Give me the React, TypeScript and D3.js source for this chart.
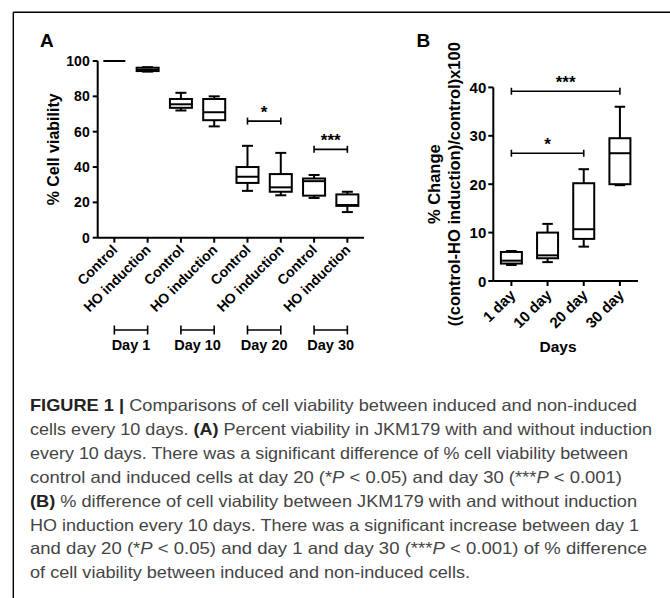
import React from "react";
import * as d3 from "d3";

// panel A: % cell viability, control vs HO induction per day
const groupsA = ["Control", "HO induction", "Control", "HO induction", "Control", "HO induction", "Control", "HO induction"];
const minA = [100, 94, 72, 63, 26.5, 24, 22.5, 14.5];
const q1A = [100, 94.3, 73.5, 66.5, 31, 26, 23.8, 18];
const medA = [100, 95, 75.5, 71, 34.5, 28.5, 32, 18.5];
const q3A = [100, 96.2, 78.5, 78.5, 40, 36, 33.5, 24.5];
const maxA = [100, 96.5, 82, 80, 52, 48, 35.5, 26];
const daysA = ["Day 1", "Day 10", "Day 20", "Day 30"];
const ticksA = [0, 20, 40, 60, 80, 100];
const sigA = [
  { from: 4, to: 5, level: 66, label: "*" },
  { from: 6, to: 7, level: 50, label: "***" },
];

// panel B: % change between control and induced
const groupsB = ["1 day", "10 day", "20 day", "30 day"];
const minB = [3.3, 3.9, 7.1, 19.8];
const q1B = [3.6, 4.7, 8.7, 20];
const medB = [4.2, 5.3, 10.7, 26.4];
const q3B = [6, 10, 20.2, 29.5];
const maxB = [6.2, 11.8, 23.1, 36];
const ticksB = [0, 10, 20, 30, 40];
const sigB = [
  { from: 0, to: 2, level: 26.4, label: "*" },
  { from: 0, to: 3, level: 39.2, label: "***" },
];

// caption, one entry per printed line
const captionLines = [
  [{ t: "FIGURE 1 | ", b: true }, { t: "Comparisons of cell viability between induced and non-induced" }],
  [{ t: "cells every 10 days. " }, { t: "(A)", b: true }, { t: " Percent viability in JKM179 with and without induction" }],
  [{ t: "every 10 days. There was a significant difference of % cell viability between" }],
  [{ t: "control and induced cells at day 20 (*" }, { t: "P", i: true }, { t: " < 0.05) and day 30 (***" }, { t: "P", i: true }, { t: " < 0.001)" }],
  [{ t: "(B)", b: true }, { t: " % difference of cell viability between JKM179 with and without induction" }],
  [{ t: "HO induction every 10 days. There was a significant increase between day 1" }],
  [{ t: "and day 20 (*" }, { t: "P", i: true }, { t: " < 0.05) and day 1 and day 30 (***" }, { t: "P", i: true }, { t: " < 0.001) of % difference" }],
  [{ t: "of cell viability between induced and non-induced cells." }],
];
const captionEnds = [637, 652, 628, 622, 637, 639, 647, 470];

const FONT = "'Liberation Sans', Arial, Helvetica, sans-serif";

const Box = ({ cx, w, lo, q1, med, q3, hi, y }) => {
  const cap = w * 0.5;
  return (
    <g stroke="#000" strokeWidth={2} fill="none">
      <line x1={cx} x2={cx} y1={y(hi)} y2={y(q3)} />
      <line x1={cx} x2={cx} y1={y(q1)} y2={y(lo)} />
      <line x1={cx - cap / 2} x2={cx + cap / 2} y1={y(hi)} y2={y(hi)} />
      <line x1={cx - cap / 2} x2={cx + cap / 2} y1={y(lo)} y2={y(lo)} />
      <rect x={cx - w / 2} y={y(q3)} width={w} height={y(q1) - y(q3)} />
      <line x1={cx - w / 2} x2={cx + w / 2} y1={y(med)} y2={y(med)} />
    </g>
  );
};

const Bracket = ({ x1, x2, y, h, label, size }) => (
  <g>
    <g stroke="#000" strokeWidth={1.6}>
      <line x1={x1} x2={x2} y1={y} y2={y} />
      <line x1={x1} x2={x1} y1={y - h / 2} y2={y + h / 2} />
      <line x1={x2} x2={x2} y1={y - h / 2} y2={y + h / 2} />
    </g>
    {label && (
      <text x={(x1 + x2) / 2} y={y - 3} textAnchor="middle" fontSize={size} fontWeight="bold">
        {label}
      </text>
    )}
  </g>
);

const App = () => {
  // panel A scales
  const xA = d3.scalePoint(d3.range(groupsA.length), [97.7, 364]).padding(0.5);
  const yA = d3.scaleLinear([0, 100], [237.7, 61]);
  // panel B scales
  const xB = d3.scalePoint(d3.range(groupsB.length), [493.3, 638]).padding(0.5);
  const yB = d3.scaleLinear([0, 40], [281, 87.4]);

  const axisA = 97.7;
  const axisB = 493.3;

  return (
    <svg width={670} height={598} style={{ position: "absolute", left: 0, top: 0, background: "#fff" }} fontFamily={FONT}>
      {/* frame */}
      <g stroke="#000" strokeWidth={1.4}>
        <line x1={13.3} x2={670} y1={12.3} y2={12.3} />
        <line x1={13.3} x2={13.3} y1={12.3} y2={598} />
      </g>

      {/* ---------- panel A ---------- */}
      <text x={40} y={47} fontSize={19} fontWeight="bold">A</text>
      <g stroke="#000" strokeWidth={2}>
        <line x1={axisA} x2={axisA} y1={yA(0)} y2={yA(100)} />
        <line x1={axisA} x2={364} y1={yA(0)} y2={yA(0)} />
        {ticksA.map(t => (
          <line key={t} x1={axisA - 5} x2={axisA} y1={yA(t)} y2={yA(t)} />
        ))}
        {groupsA.map((g, i) => (
          <line key={i} x1={xA(i)} x2={xA(i)} y1={yA(0)} y2={yA(0) + 5} />
        ))}
      </g>
      {ticksA.map(t => (
        <text key={t} x={axisA - 8} y={yA(t) + 5} textAnchor="end" fontSize={14} fontWeight="bold">{t}</text>
      ))}
      <text transform={`translate(59,${(yA(0) + yA(100)) / 2}) rotate(-90)`} textAnchor="middle" fontSize={16} fontWeight="bold">
        % Cell viability
      </text>
      {groupsA.map((g, i) => (
        <text key={i} transform={`translate(${xA(i) + 4},${yA(0) + 13}) rotate(-45)`} textAnchor="end" fontSize={14} fontWeight="bold">
          {g}
        </text>
      ))}
      {groupsA.map((g, i) => (
        <Box key={i} cx={xA(i)} w={22} lo={minA[i]} q1={q1A[i]} med={medA[i]} q3={q3A[i]} hi={maxA[i]} y={yA} />
      ))}
      {sigA.map((s, k) => (
        <Bracket key={k} x1={xA(s.from)} x2={xA(s.to)} y={yA(s.level)} h={7} label={s.label} size={17} />
      ))}
      {daysA.map((d, k) => (
        <g key={d}>
          <Bracket x1={xA(k * 2)} x2={xA(k * 2 + 1)} y={330} h={9} />
          <text x={(xA(k * 2) + xA(k * 2 + 1)) / 2} y={349.5} textAnchor="middle" fontSize={14.5} fontWeight="bold">{d}</text>
        </g>
      ))}

      {/* ---------- panel B ---------- */}
      <text x={416.5} y={47} fontSize={19} fontWeight="bold">B</text>
      <g stroke="#000" strokeWidth={2}>
        <line x1={axisB} x2={axisB} y1={yB(0)} y2={yB(40)} />
        <line x1={axisB} x2={638} y1={yB(0)} y2={yB(0)} />
        {ticksB.map(t => (
          <line key={t} x1={axisB - 5} x2={axisB} y1={yB(t)} y2={yB(t)} />
        ))}
        {groupsB.map((g, i) => (
          <line key={i} x1={xB(i)} x2={xB(i)} y1={yB(0)} y2={yB(0) + 5} />
        ))}
      </g>
      {ticksB.map(t => (
        <text key={t} x={axisB - 7} y={yB(t) + 5.5} textAnchor="end" fontSize={15} fontWeight="bold">{t}</text>
      ))}
      <text transform={`translate(${440},${(yB(0) + yB(40)) / 2}) rotate(-90)`} textAnchor="middle" fontSize={16.5} fontWeight="bold">
        % Change
      </text>
      <text transform={`translate(${460},${(yB(0) + yB(40)) / 2}) rotate(-90)`} textAnchor="middle" fontSize={16.5} fontWeight="bold">
        ((control-HO induction)/control)x100
      </text>
      {groupsB.map((g, i) => (
        <text key={i} transform={`translate(${xB(i) + 5},${yB(0) + 15}) rotate(-45)`} textAnchor="end" fontSize={15} fontWeight="bold">
          {g}
        </text>
      ))}
      <text x={558} y={352} textAnchor="middle" fontSize={15.5} fontWeight="bold">Days</text>
      {groupsB.map((g, i) => (
        <Box key={i} cx={xB(i)} w={21} lo={minB[i]} q1={q1B[i]} med={medB[i]} q3={q3B[i]} hi={maxB[i]} y={yB} />
      ))}
      {sigB.map((s, k) => (
        <Bracket key={k} x1={xB(s.from)} x2={xB(s.to)} y={yB(s.level)} h={7} label={s.label} size={17} />
      ))}

      {/* ---------- caption ---------- */}
      {captionLines.map((line, k) => (
        <text
          key={k}
          x={30}
          y={411 + k * 23.9}
          fontSize={16.5}
          fill="#444"
          textLength={captionEnds[k] - 30}
          lengthAdjust="spacingAndGlyphs"
        >
          {line.map((s, j) => (
            <tspan key={j} fontWeight={s.b ? "bold" : "normal"} fontStyle={s.i ? "italic" : "normal"} fill={s.b ? "#222" : undefined}>
              {s.t}
            </tspan>
          ))}
        </text>
      ))}
    </svg>
  );
};

export default App;
